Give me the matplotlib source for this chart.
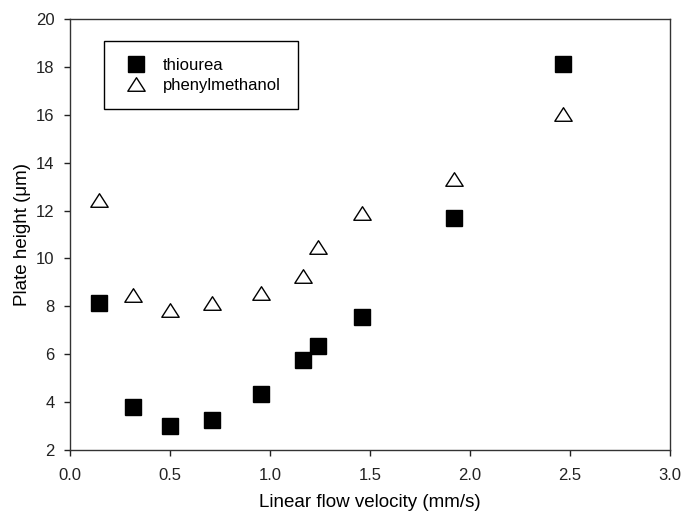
import numpy as np
import matplotlib.pyplot as plt
from matplotlib.path import Path

plt.rcParams['font.family'] = ['Liberation Sans', 'DejaVu Sans']

# data
velocity = [0.145, 0.315, 0.50, 0.71, 0.955, 1.167, 1.24, 1.46, 1.92, 2.465]
thiourea = [8.13, 3.81, 3.02, 3.25, 4.34, 5.76, 6.34, 7.57, 11.70, 18.12]
phenylmethanol = [12.44, 8.47, 7.85, 8.15, 8.57, 9.27, 10.49, 11.91, 13.31, 16.05]

# flattened triangle like the original
tri = Path([(-1, -0.78), (1, -0.78), (0, 0.78), (-1, -0.78)],
           [Path.MOVETO, Path.LINETO, Path.LINETO, Path.CLOSEPOLY])

fig = plt.figure(figsize=(6.84, 5.11), dpi=100)
ax = fig.add_axes([70/684, 61/511, 600/684, 431/511])

ax.plot(velocity, thiourea, linestyle='none', marker='s', markersize=11.5,
        color='black', label='thiourea')
ax.plot(velocity, phenylmethanol, linestyle='none', marker=tri, markersize=12.5,
        markerfacecolor='white', markeredgecolor='black', markeredgewidth=1.0,
        label='phenylmethanol')

ax.set_xlim(0, 3.0)
ax.set_ylim(2, 20)
ax.set_xticks(np.arange(0, 3.01, 0.5))
ax.set_xticklabels(['0.0', '0.5', '1.0', '1.5', '2.0', '2.5', '3.0'])
ax.set_yticks(np.arange(2, 21, 2))
ax.tick_params(direction='out', length=4, width=1, labelsize=12, colors='#222222')
ax.tick_params(axis='x', pad=9)
ax.tick_params(axis='y', pad=7)
for s in ax.spines.values():
    s.set_linewidth(1)
    s.set_color('#333333')

ax.set_xlabel('Linear flow velocity (mm/s)', fontsize=13.5, labelpad=8)
ax.set_ylabel('Plate height (\u03bcm)', fontsize=13.5, labelpad=4)

leg = ax.legend(loc='upper left', bbox_to_anchor=(104/684, 1 - 41/511),
                bbox_transform=fig.transFigure, fancybox=False, framealpha=1,
                edgecolor='black', fontsize=12, handletextpad=0.75,
                borderpad=1.0, labelspacing=0.3, borderaxespad=0,
                handlelength=1.8)
leg.get_frame().set_linewidth(1)

fig.savefig('out.png', dpi=100)
